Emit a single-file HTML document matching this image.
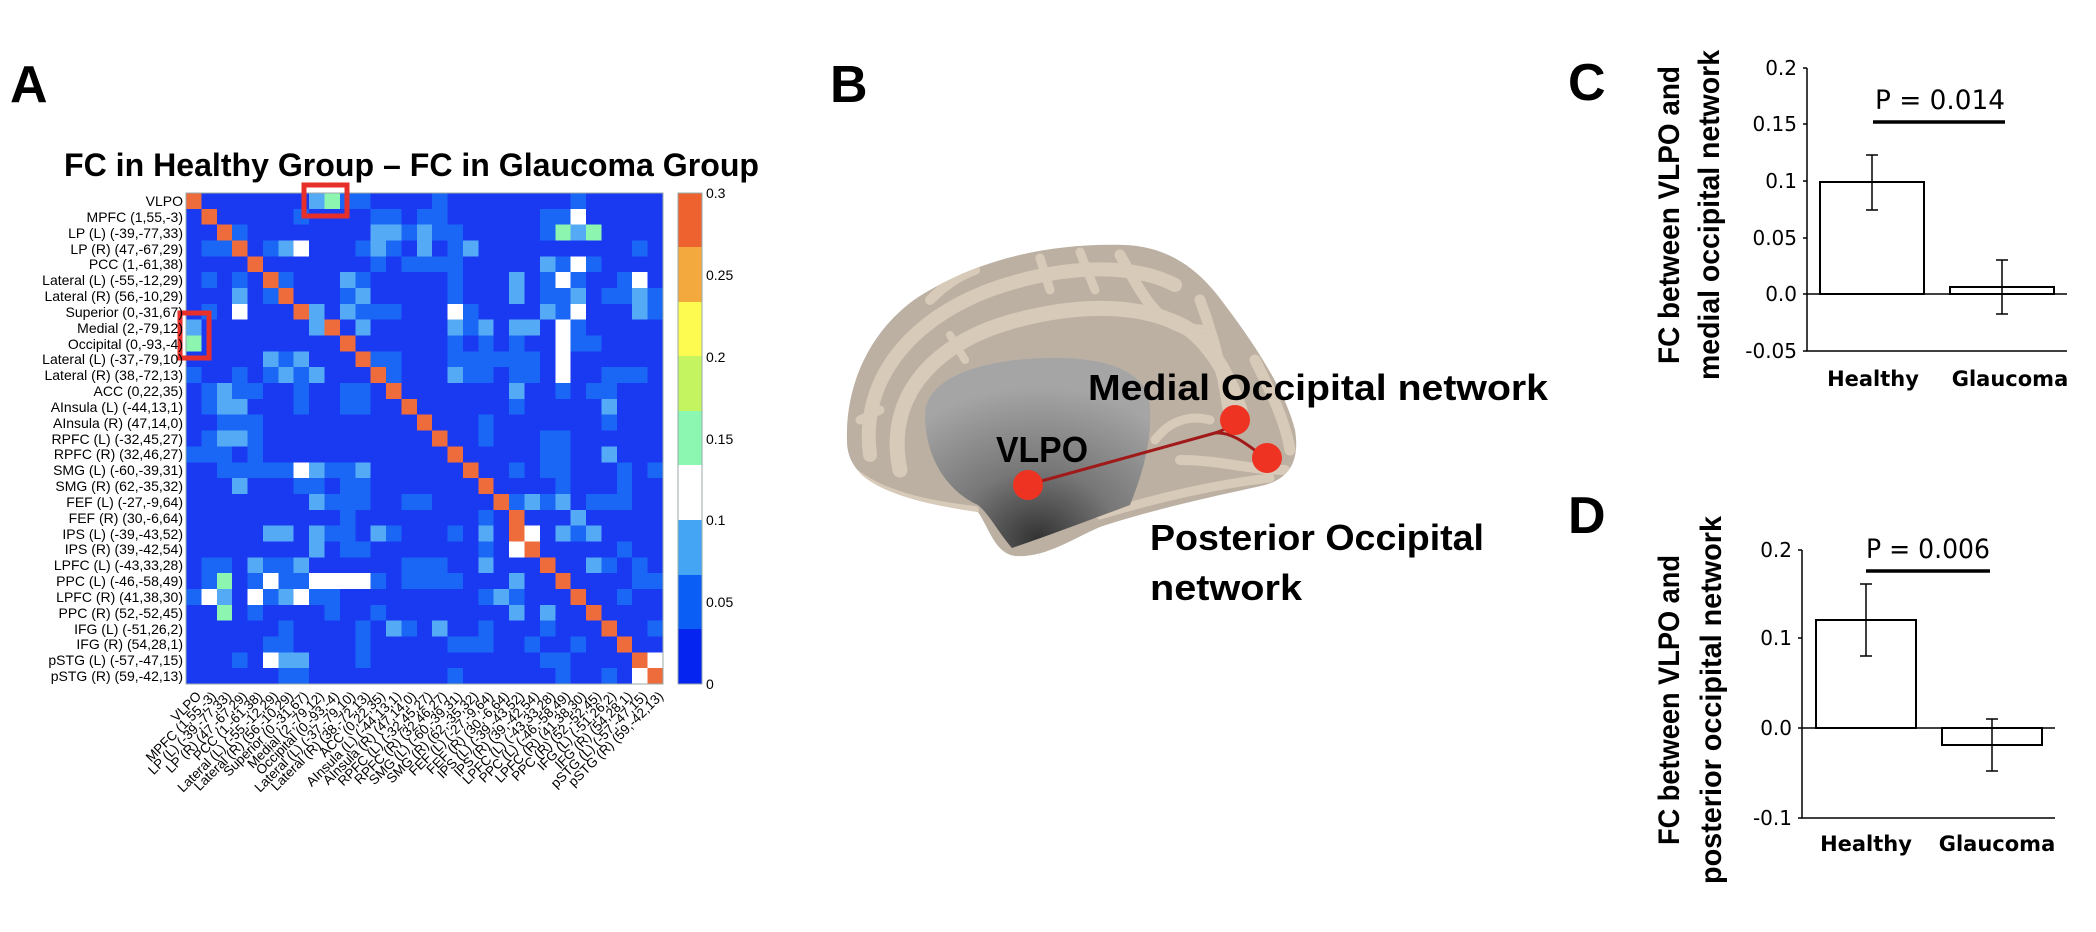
<!DOCTYPE html>
<html><head><meta charset="utf-8"><style>
html,body{margin:0;padding:0;background:#fff;}
svg{display:block;}
.M{fill:#1a66f5}.L{fill:#55aaf5}.W{fill:#ffffff}.G{fill:#8cf5b0}.O{fill:#ee6b3b}
text{font-family:"Liberation Sans",sans-serif;}
.rl{font-size:14px;text-anchor:end;}
.cl{font-size:13.5px;text-anchor:end;}
.big{font-weight:bold;font-size:52px;}
.tk{font-family:"DejaVu Sans",sans-serif;font-size:20px;text-anchor:end;}
.xl{font-family:"DejaVu Sans",sans-serif;font-size:21px;font-weight:bold;text-anchor:middle;}
.pv{font-family:"DejaVu Sans",sans-serif;font-size:27px;}
.yl{font-weight:bold;font-size:30px;text-anchor:middle;}
.bl{font-weight:bold;font-size:36px;}
</style></head><body>
<svg width="2096" height="932" viewBox="0 0 2096 932" xmlns="http://www.w3.org/2000/svg">
<rect width="2096" height="932" fill="#fff"/>
<text class="big" x="10" y="102">A</text>
<text class="big" x="830" y="102">B</text>
<text class="big" x="1568" y="100">C</text>
<text class="big" x="1568" y="533">D</text>

<text x="64" y="176" font-weight="bold" font-size="32" textLength="695" lengthAdjust="spacingAndGlyphs">FC in Healthy Group – FC in Glaucoma Group</text>

<svg x="186" y="193" width="477" height="491" viewBox="0 0 31 31" preserveAspectRatio="none">
<rect width="31" height="31" fill="#1a3af2"/>
<g shape-rendering="crispEdges">
<rect class="O" x="0" y="0" width="1" height="1"/><rect class="L" x="8" y="0" width="1" height="1"/><rect class="G" x="9" y="0" width="1" height="1"/><rect class="M" x="10" y="0" width="2" height="1"/><rect class="M" x="16" y="0" width="1" height="1"/><rect class="M" x="25" y="0" width="1" height="1"/>
<rect class="O" x="1" y="1" width="1" height="1"/><rect class="M" x="7" y="1" width="1" height="1"/><rect class="M" x="12" y="1" width="2" height="1"/><rect class="M" x="15" y="1" width="2" height="1"/><rect class="M" x="23" y="1" width="2" height="1"/><rect class="W" x="25" y="1" width="1" height="1"/>
<rect class="O" x="2" y="2" width="1" height="1"/><rect class="M" x="3" y="2" width="1" height="1"/><rect class="L" x="12" y="2" width="2" height="1"/><rect class="M" x="14" y="2" width="1" height="1"/><rect class="L" x="15" y="2" width="1" height="1"/><rect class="M" x="16" y="2" width="2" height="1"/><rect class="M" x="23" y="2" width="1" height="1"/><rect class="G" x="24" y="2" width="1" height="1"/><rect class="L" x="25" y="2" width="1" height="1"/><rect class="G" x="26" y="2" width="1" height="1"/>
<rect class="M" x="1" y="3" width="2" height="1"/><rect class="O" x="3" y="3" width="1" height="1"/><rect class="M" x="5" y="3" width="1" height="1"/><rect class="L" x="6" y="3" width="1" height="1"/><rect class="W" x="7" y="3" width="1" height="1"/><rect class="M" x="11" y="3" width="1" height="1"/><rect class="L" x="12" y="3" width="1" height="1"/><rect class="M" x="13" y="3" width="1" height="1"/><rect class="L" x="15" y="3" width="1" height="1"/><rect class="M" x="17" y="3" width="1" height="1"/><rect class="L" x="18" y="3" width="1" height="1"/><rect class="M" x="29" y="3" width="1" height="1"/>
<rect class="O" x="4" y="4" width="1" height="1"/><rect class="M" x="12" y="4" width="1" height="1"/><rect class="M" x="14" y="4" width="4" height="1"/><rect class="L" x="23" y="4" width="1" height="1"/><rect class="M" x="24" y="4" width="1" height="1"/><rect class="W" x="25" y="4" width="1" height="1"/><rect class="M" x="26" y="4" width="1" height="1"/>
<rect class="M" x="1" y="5" width="1" height="1"/><rect class="M" x="3" y="5" width="1" height="1"/><rect class="O" x="5" y="5" width="1" height="1"/><rect class="M" x="6" y="5" width="1" height="1"/><rect class="L" x="10" y="5" width="1" height="1"/><rect class="M" x="11" y="5" width="1" height="1"/><rect class="M" x="17" y="5" width="1" height="1"/><rect class="L" x="21" y="5" width="1" height="1"/><rect class="M" x="23" y="5" width="1" height="1"/><rect class="W" x="24" y="5" width="1" height="1"/><rect class="M" x="25" y="5" width="1" height="1"/><rect class="M" x="28" y="5" width="1" height="1"/><rect class="W" x="29" y="5" width="1" height="1"/>
<rect class="L" x="3" y="6" width="1" height="1"/><rect class="M" x="5" y="6" width="1" height="1"/><rect class="O" x="6" y="6" width="1" height="1"/><rect class="M" x="10" y="6" width="1" height="1"/><rect class="L" x="11" y="6" width="1" height="1"/><rect class="M" x="17" y="6" width="1" height="1"/><rect class="L" x="21" y="6" width="1" height="1"/><rect class="M" x="23" y="6" width="2" height="1"/><rect class="L" x="25" y="6" width="1" height="1"/><rect class="M" x="27" y="6" width="2" height="1"/><rect class="L" x="29" y="6" width="1" height="1"/><rect class="M" x="30" y="6" width="1" height="1"/>
<rect class="M" x="1" y="7" width="1" height="1"/><rect class="W" x="3" y="7" width="1" height="1"/><rect class="O" x="7" y="7" width="1" height="1"/><rect class="L" x="8" y="7" width="1" height="1"/><rect class="L" x="10" y="7" width="1" height="1"/><rect class="M" x="11" y="7" width="3" height="1"/><rect class="W" x="17" y="7" width="1" height="1"/><rect class="M" x="18" y="7" width="1" height="1"/><rect class="L" x="23" y="7" width="1" height="1"/><rect class="M" x="24" y="7" width="1" height="1"/><rect class="W" x="25" y="7" width="1" height="1"/><rect class="L" x="29" y="7" width="1" height="1"/><rect class="M" x="30" y="7" width="1" height="1"/>
<rect class="L" x="0" y="8" width="1" height="1"/><rect class="L" x="8" y="8" width="1" height="1"/><rect class="O" x="9" y="8" width="1" height="1"/><rect class="L" x="11" y="8" width="1" height="1"/><rect class="L" x="17" y="8" width="1" height="1"/><rect class="M" x="18" y="8" width="1" height="1"/><rect class="L" x="19" y="8" width="1" height="1"/><rect class="L" x="21" y="8" width="2" height="1"/><rect class="W" x="24" y="8" width="1" height="1"/><rect class="M" x="25" y="8" width="1" height="1"/>
<rect class="G" x="0" y="9" width="1" height="1"/><rect class="O" x="10" y="9" width="1" height="1"/><rect class="M" x="17" y="9" width="1" height="1"/><rect class="M" x="19" y="9" width="1" height="1"/><rect class="M" x="21" y="9" width="1" height="1"/><rect class="W" x="24" y="9" width="1" height="1"/><rect class="M" x="25" y="9" width="2" height="1"/>
<rect class="L" x="5" y="10" width="1" height="1"/><rect class="M" x="6" y="10" width="1" height="1"/><rect class="L" x="7" y="10" width="1" height="1"/><rect class="O" x="11" y="10" width="1" height="1"/><rect class="M" x="12" y="10" width="2" height="1"/><rect class="M" x="17" y="10" width="6" height="1"/><rect class="W" x="24" y="10" width="1" height="1"/>
<rect class="M" x="0" y="11" width="1" height="1"/><rect class="M" x="3" y="11" width="1" height="1"/><rect class="M" x="5" y="11" width="1" height="1"/><rect class="L" x="6" y="11" width="1" height="1"/><rect class="M" x="7" y="11" width="1" height="1"/><rect class="L" x="8" y="11" width="1" height="1"/><rect class="O" x="12" y="11" width="1" height="1"/><rect class="M" x="13" y="11" width="1" height="1"/><rect class="L" x="17" y="11" width="1" height="1"/><rect class="M" x="18" y="11" width="2" height="1"/><rect class="M" x="21" y="11" width="2" height="1"/><rect class="W" x="24" y="11" width="1" height="1"/><rect class="M" x="27" y="11" width="3" height="1"/>
<rect class="M" x="1" y="12" width="1" height="1"/><rect class="L" x="2" y="12" width="1" height="1"/><rect class="M" x="3" y="12" width="2" height="1"/><rect class="M" x="7" y="12" width="1" height="1"/><rect class="M" x="10" y="12" width="2" height="1"/><rect class="O" x="13" y="12" width="1" height="1"/><rect class="L" x="21" y="12" width="1" height="1"/><rect class="M" x="24" y="12" width="1" height="1"/><rect class="M" x="26" y="12" width="2" height="1"/>
<rect class="M" x="1" y="13" width="1" height="1"/><rect class="L" x="2" y="13" width="2" height="1"/><rect class="M" x="7" y="13" width="1" height="1"/><rect class="M" x="10" y="13" width="2" height="1"/><rect class="O" x="14" y="13" width="1" height="1"/><rect class="M" x="21" y="13" width="1" height="1"/><rect class="L" x="27" y="13" width="1" height="1"/>
<rect class="M" x="2" y="14" width="3" height="1"/><rect class="O" x="15" y="14" width="1" height="1"/><rect class="M" x="19" y="14" width="1" height="1"/><rect class="M" x="27" y="14" width="1" height="1"/>
<rect class="M" x="1" y="15" width="1" height="1"/><rect class="L" x="2" y="15" width="2" height="1"/><rect class="M" x="4" y="15" width="1" height="1"/><rect class="O" x="16" y="15" width="1" height="1"/><rect class="M" x="19" y="15" width="1" height="1"/><rect class="M" x="23" y="15" width="2" height="1"/>
<rect class="M" x="0" y="16" width="3" height="1"/><rect class="M" x="4" y="16" width="1" height="1"/><rect class="O" x="17" y="16" width="1" height="1"/><rect class="M" x="23" y="16" width="2" height="1"/><rect class="L" x="27" y="16" width="1" height="1"/>
<rect class="M" x="2" y="17" width="5" height="1"/><rect class="W" x="7" y="17" width="1" height="1"/><rect class="L" x="8" y="17" width="1" height="1"/><rect class="M" x="9" y="17" width="2" height="1"/><rect class="L" x="11" y="17" width="1" height="1"/><rect class="O" x="18" y="17" width="1" height="1"/><rect class="M" x="21" y="17" width="1" height="1"/><rect class="M" x="23" y="17" width="2" height="1"/><rect class="M" x="28" y="17" width="1" height="1"/><rect class="M" x="30" y="17" width="1" height="1"/>
<rect class="L" x="3" y="18" width="1" height="1"/><rect class="M" x="7" y="18" width="2" height="1"/><rect class="M" x="10" y="18" width="2" height="1"/><rect class="O" x="19" y="18" width="1" height="1"/><rect class="M" x="24" y="18" width="1" height="1"/><rect class="M" x="28" y="18" width="1" height="1"/>
<rect class="L" x="8" y="19" width="1" height="1"/><rect class="M" x="9" y="19" width="3" height="1"/><rect class="M" x="14" y="19" width="2" height="1"/><rect class="O" x="20" y="19" width="1" height="1"/><rect class="M" x="21" y="19" width="1" height="1"/><rect class="L" x="22" y="19" width="1" height="1"/><rect class="M" x="23" y="19" width="1" height="1"/><rect class="L" x="24" y="19" width="1" height="1"/><rect class="M" x="26" y="19" width="3" height="1"/>
<rect class="M" x="10" y="20" width="1" height="1"/><rect class="M" x="19" y="20" width="1" height="1"/><rect class="O" x="21" y="20" width="1" height="1"/><rect class="L" x="25" y="20" width="1" height="1"/>
<rect class="L" x="5" y="21" width="2" height="1"/><rect class="L" x="8" y="21" width="1" height="1"/><rect class="M" x="9" y="21" width="2" height="1"/><rect class="L" x="12" y="21" width="1" height="1"/><rect class="M" x="13" y="21" width="1" height="1"/><rect class="M" x="17" y="21" width="1" height="1"/><rect class="L" x="19" y="21" width="1" height="1"/><rect class="O" x="21" y="21" width="1" height="1"/><rect class="W" x="22" y="21" width="1" height="1"/><rect class="L" x="24" y="21" width="1" height="1"/><rect class="M" x="25" y="21" width="1" height="1"/><rect class="L" x="26" y="21" width="1" height="1"/>
<rect class="L" x="8" y="22" width="1" height="1"/><rect class="M" x="10" y="22" width="2" height="1"/><rect class="M" x="19" y="22" width="1" height="1"/><rect class="W" x="21" y="22" width="1" height="1"/><rect class="O" x="22" y="22" width="1" height="1"/><rect class="M" x="28" y="22" width="1" height="1"/>
<rect class="M" x="1" y="23" width="2" height="1"/><rect class="L" x="4" y="23" width="1" height="1"/><rect class="M" x="5" y="23" width="2" height="1"/><rect class="L" x="7" y="23" width="1" height="1"/><rect class="M" x="14" y="23" width="3" height="1"/><rect class="L" x="19" y="23" width="1" height="1"/><rect class="O" x="23" y="23" width="1" height="1"/><rect class="L" x="26" y="23" width="1" height="1"/><rect class="M" x="27" y="23" width="1" height="1"/><rect class="M" x="29" y="23" width="1" height="1"/>
<rect class="M" x="1" y="24" width="1" height="1"/><rect class="G" x="2" y="24" width="1" height="1"/><rect class="M" x="4" y="24" width="1" height="1"/><rect class="W" x="5" y="24" width="1" height="1"/><rect class="M" x="6" y="24" width="2" height="1"/><rect class="W" x="8" y="24" width="4" height="1"/><rect class="M" x="12" y="24" width="1" height="1"/><rect class="M" x="14" y="24" width="4" height="1"/><rect class="L" x="21" y="24" width="1" height="1"/><rect class="O" x="24" y="24" width="1" height="1"/><rect class="M" x="29" y="24" width="2" height="1"/>
<rect class="M" x="0" y="25" width="1" height="1"/><rect class="W" x="1" y="25" width="1" height="1"/><rect class="L" x="2" y="25" width="1" height="1"/><rect class="W" x="4" y="25" width="1" height="1"/><rect class="M" x="5" y="25" width="1" height="1"/><rect class="L" x="6" y="25" width="1" height="1"/><rect class="W" x="7" y="25" width="1" height="1"/><rect class="M" x="8" y="25" width="2" height="1"/><rect class="M" x="19" y="25" width="1" height="1"/><rect class="L" x="20" y="25" width="1" height="1"/><rect class="M" x="21" y="25" width="1" height="1"/><rect class="O" x="25" y="25" width="1" height="1"/><rect class="M" x="28" y="25" width="1" height="1"/>
<rect class="G" x="2" y="26" width="1" height="1"/><rect class="M" x="4" y="26" width="1" height="1"/><rect class="M" x="9" y="26" width="1" height="1"/><rect class="M" x="12" y="26" width="1" height="1"/><rect class="L" x="21" y="26" width="1" height="1"/><rect class="L" x="23" y="26" width="1" height="1"/><rect class="O" x="26" y="26" width="1" height="1"/>
<rect class="M" x="6" y="27" width="1" height="1"/><rect class="M" x="11" y="27" width="1" height="1"/><rect class="L" x="13" y="27" width="1" height="1"/><rect class="M" x="14" y="27" width="1" height="1"/><rect class="L" x="16" y="27" width="1" height="1"/><rect class="M" x="19" y="27" width="1" height="1"/><rect class="M" x="23" y="27" width="1" height="1"/><rect class="O" x="27" y="27" width="1" height="1"/><rect class="M" x="30" y="27" width="1" height="1"/>
<rect class="M" x="5" y="28" width="2" height="1"/><rect class="M" x="11" y="28" width="1" height="1"/><rect class="M" x="17" y="28" width="3" height="1"/><rect class="M" x="22" y="28" width="1" height="1"/><rect class="M" x="25" y="28" width="1" height="1"/><rect class="O" x="28" y="28" width="1" height="1"/>
<rect class="M" x="3" y="29" width="1" height="1"/><rect class="W" x="5" y="29" width="1" height="1"/><rect class="L" x="6" y="29" width="2" height="1"/><rect class="M" x="11" y="29" width="1" height="1"/><rect class="M" x="23" y="29" width="2" height="1"/><rect class="O" x="29" y="29" width="1" height="1"/><rect class="W" x="30" y="29" width="1" height="1"/>
<rect class="M" x="6" y="30" width="2" height="1"/><rect class="M" x="17" y="30" width="1" height="1"/><rect class="M" x="24" y="30" width="1" height="1"/><rect class="M" x="27" y="30" width="1" height="1"/><rect class="W" x="29" y="30" width="1" height="1"/><rect class="O" x="30" y="30" width="1" height="1"/>
</g>
</svg>
<rect x="186" y="193" width="477" height="491" fill="none" stroke="#9aa" stroke-width="1"/>

<rect x="304" y="185" width="43" height="31" fill="none" stroke="#e8302a" stroke-width="5"/>
<rect x="180" y="313" width="29" height="45" fill="none" stroke="#e8302a" stroke-width="5"/>

<g>
<text class="rl" x="183" y="206">VLPO</text>
<text class="rl" x="183" y="222">MPFC (1,55,-3)</text>
<text class="rl" x="183" y="238">LP (L) (-39,-77,33)</text>
<text class="rl" x="183" y="254">LP (R) (47,-67,29)</text>
<text class="rl" x="183" y="269">PCC (1,-61,38)</text>
<text class="rl" x="183" y="285">Lateral (L) (-55,-12,29)</text>
<text class="rl" x="183" y="301">Lateral (R) (56,-10,29)</text>
<text class="rl" x="183" y="317">Superior  (0,-31,67)</text>
<text class="rl" x="183" y="333">Medial (2,-79,12)</text>
<text class="rl" x="183" y="349">Occipital (0,-93,-4)</text>
<text class="rl" x="183" y="364">Lateral (L) (-37,-79,10)</text>
<text class="rl" x="183" y="380">Lateral (R) (38,-72,13)</text>
<text class="rl" x="183" y="396">ACC (0,22,35)</text>
<text class="rl" x="183" y="412">AInsula (L) (-44,13,1)</text>
<text class="rl" x="183" y="428">AInsula (R) (47,14,0)</text>
<text class="rl" x="183" y="444">RPFC (L) (-32,45,27)</text>
<text class="rl" x="183" y="459">RPFC (R) (32,46,27)</text>
<text class="rl" x="183" y="475">SMG (L) (-60,-39,31)</text>
<text class="rl" x="183" y="491">SMG (R) (62,-35,32)</text>
<text class="rl" x="183" y="507">FEF (L)  (-27,-9,64)</text>
<text class="rl" x="183" y="523">FEF (R)  (30,-6,64)</text>
<text class="rl" x="183" y="539">IPS (L)  (-39,-43,52)</text>
<text class="rl" x="183" y="554">IPS (R)  (39,-42,54)</text>
<text class="rl" x="183" y="570">LPFC (L)  (-43,33,28)</text>
<text class="rl" x="183" y="586">PPC (L)  (-46,-58,49)</text>
<text class="rl" x="183" y="602">LPFC (R)  (41,38,30)</text>
<text class="rl" x="183" y="618">PPC (R)  (52,-52,45)</text>
<text class="rl" x="183" y="634">IFG (L) (-51,26,2)</text>
<text class="rl" x="183" y="649">IFG (R) (54,28,1)</text>
<text class="rl" x="183" y="665">pSTG (L) (-57,-47,15)</text>
<text class="rl" x="183" y="681">pSTG (R) (59,-42,13)</text>
</g>

<g>
<text class="cl" transform="translate(202,697) rotate(-45)">VLPO</text>
<text class="cl" transform="translate(217,697) rotate(-45)">MPFC (1,55,-3)</text>
<text class="cl" transform="translate(232,697) rotate(-45)">LP (L) (-39,-77,33)</text>
<text class="cl" transform="translate(248,697) rotate(-45)">LP (R) (47,-67,29)</text>
<text class="cl" transform="translate(263,697) rotate(-45)">PCC (1,-61,38)</text>
<text class="cl" transform="translate(279,697) rotate(-45)">Lateral (L) (-55,-12,29)</text>
<text class="cl" transform="translate(294,697) rotate(-45)">Lateral (R) (56,-10,29)</text>
<text class="cl" transform="translate(309,697) rotate(-45)">Superior (0,-31,67)</text>
<text class="cl" transform="translate(325,697) rotate(-45)">Medial (2,-79,12)</text>
<text class="cl" transform="translate(340,697) rotate(-45)">Occipital (0,-93,-4)</text>
<text class="cl" transform="translate(356,697) rotate(-45)">Lateral (L) (-37,-79,10)</text>
<text class="cl" transform="translate(371,697) rotate(-45)">Lateral (R) (38,-72,13)</text>
<text class="cl" transform="translate(386,697) rotate(-45)">ACC (0,22,35)</text>
<text class="cl" transform="translate(402,697) rotate(-45)">AInsula (L) (-44,13,1)</text>
<text class="cl" transform="translate(417,697) rotate(-45)">AInsula (R) (47,14,0)</text>
<text class="cl" transform="translate(433,697) rotate(-45)">RPFC (L) (-32,45,27)</text>
<text class="cl" transform="translate(448,697) rotate(-45)">RPFC (R) (32,46,27)</text>
<text class="cl" transform="translate(463,697) rotate(-45)">SMG (L) (-60,-39,31)</text>
<text class="cl" transform="translate(479,697) rotate(-45)">SMG (R) (62,-35,32)</text>
<text class="cl" transform="translate(494,697) rotate(-45)">FEF (L) (-27,-9,64)</text>
<text class="cl" transform="translate(510,697) rotate(-45)">FEF (R) (30,-6,64)</text>
<text class="cl" transform="translate(525,697) rotate(-45)">IPS (L) (-39,-43,52)</text>
<text class="cl" transform="translate(540,697) rotate(-45)">IPS (R) (39,-42,54)</text>
<text class="cl" transform="translate(556,697) rotate(-45)">LPFC (L) (-43,33,28)</text>
<text class="cl" transform="translate(571,697) rotate(-45)">PPC (L) (-46,-58,49)</text>
<text class="cl" transform="translate(587,697) rotate(-45)">LPFC (R) (41,38,30)</text>
<text class="cl" transform="translate(602,697) rotate(-45)">PPC (R) (52,-52,45)</text>
<text class="cl" transform="translate(617,697) rotate(-45)">IFG (L) (-51,26,2)</text>
<text class="cl" transform="translate(633,697) rotate(-45)">IFG (R) (54,28,1)</text>
<text class="cl" transform="translate(648,697) rotate(-45)">pSTG (L) (-57,-47,15)</text>
<text class="cl" transform="translate(664,697) rotate(-45)">pSTG (R) (59,-42,13)</text>
</g>

<g shape-rendering="crispEdges">
<rect x="678" y="193" width="24" height="55" fill="#ee6230"/>
<rect x="678" y="247" width="24" height="55" fill="#f3a93e"/>
<rect x="678" y="302" width="24" height="55" fill="#fdfb50"/>
<rect x="678" y="356" width="24" height="55" fill="#c4f560"/>
<rect x="678" y="411" width="24" height="55" fill="#8cf7b0"/>
<rect x="678" y="465" width="24" height="55" fill="#ffffff"/>
<rect x="678" y="520" width="24" height="55" fill="#45a5f5"/>
<rect x="678" y="575" width="24" height="55" fill="#0a5ef5"/>
<rect x="678" y="629" width="24" height="55" fill="#0524f0"/>
</g>
<rect x="678" y="193" width="24" height="491" fill="none" stroke="#9aa" stroke-width="1"/>
<g font-size="14">
<text x="706" y="198">0.3</text>
<text x="706" y="280">0.25</text>
<text x="706" y="362">0.2</text>
<text x="706" y="444">0.15</text>
<text x="706" y="525">0.1</text>
<text x="706" y="607">0.05</text>
<text x="706" y="689">0</text>
</g>

<!-- Brain -->
<defs>
<radialGradient id="mw" cx="0.5" cy="0.95" r="0.8">
<stop offset="0" stop-color="#333"/>
<stop offset="0.45" stop-color="#777"/>
<stop offset="1" stop-color="#a5a5a5"/>
</radialGradient>
<clipPath id="bc"><path d="M847,440 C845,380 875,320 930,290 C990,255 1060,243 1125,245 C1170,247 1200,270 1225,305 C1255,345 1285,390 1295,430 C1300,460 1290,478 1265,485 C1220,495 1150,510 1100,527 C1070,540 1045,558 1015,556 C995,553 990,530 978,512 C930,505 885,495 862,475 C850,463 847,452 847,440 Z"/></clipPath>
</defs>
<g clip-path="url(#bc)">
<rect x="840" y="240" width="470" height="330" fill="#bcb0a3"/>
<g fill="none" stroke="#d8cab8" stroke-linecap="round">
<path d="M870,455 C860,380 910,320 990,290 C1060,265 1130,262 1175,285" stroke-width="14"/>
<path d="M900,470 C885,400 930,345 1010,322 C1070,305 1140,300 1190,330 C1215,350 1230,380 1240,410" stroke-width="15"/>
<path d="M1120,255 C1145,300 1160,330 1200,330" stroke-width="11"/>
<path d="M1200,300 C1215,340 1225,380 1230,425" stroke-width="11"/>
<path d="M1255,360 C1270,390 1285,420 1290,450" stroke-width="11"/>
<path d="M1180,460 C1220,460 1250,470 1285,470" stroke-width="10"/>
<path d="M1100,515 C1150,500 1210,485 1270,478" stroke-width="9"/>
<path d="M930,300 C945,285 960,275 975,270" stroke-width="10"/>
<path d="M1040,258 L1050,290" stroke-width="9"/>
<path d="M1080,252 L1095,290" stroke-width="9"/>
<path d="M860,420 L880,410" stroke-width="9"/>
<path d="M950,335 L965,360" stroke-width="8"/>
<path d="M1155,440 C1170,420 1190,415 1210,420" stroke-width="9"/>
<path d="M852,470 C880,495 930,505 975,510" stroke-width="8"/>
</g>
<path d="M925,415 C925,380 975,360 1045,358 C1115,356 1150,375 1150,410 C1152,445 1140,480 1130,505 C1090,520 1050,535 1012,548 C998,532 990,515 978,505 C945,490 925,455 925,415 Z" fill="url(#mw)"/>
</g>
<path d="M1027,485 L1215,433 C1225,430 1232,425 1234,420" fill="none" stroke="#a01a1a" stroke-width="3"/>
<path d="M1215,433 C1235,431 1255,452 1266,458" fill="none" stroke="#a01a1a" stroke-width="3"/>
<ellipse cx="1028" cy="485" rx="15" ry="15" fill="#ee3322"/>
<ellipse cx="1235" cy="420" rx="15" ry="15" fill="#ee3322"/>
<ellipse cx="1267" cy="458" rx="15" ry="15" fill="#ee3322"/>
<text class="bl" x="996" y="462" textLength="92" lengthAdjust="spacingAndGlyphs">VLPO</text>
<text class="bl" x="1088" y="400" textLength="460" lengthAdjust="spacingAndGlyphs">Medial Occipital network</text>
<text class="bl" x="1150" y="550" textLength="334" lengthAdjust="spacingAndGlyphs">Posterior Occipital</text>
<text class="bl" x="1150" y="600" textLength="152" lengthAdjust="spacingAndGlyphs">network</text>

<!-- Chart C -->
<g stroke="#000" fill="none" stroke-width="1.5">
<path d="M1807,68 L1807,351 L2067,351"/>
<path d="M1807,294 L2067,294"/>
<path d="M1803,68 L1807,68 M1803,124 L1807,124 M1803,181 L1807,181 M1803,238 L1807,238 M1803,294 L1807,294 M1803,351 L1807,351"/>
<rect x="1820" y="182" width="104" height="112" stroke-width="2"/>
<rect x="1950" y="287" width="104" height="7" stroke-width="2"/>
<path d="M1872,155 L1872,210 M1866,155 L1878,155 M1866,210 L1878,210"/>
<path d="M2002,260 L2002,314 M1996,260 L2008,260 M1996,314 L2008,314"/>
</g>
<path d="M1873,122 L2005,122" stroke="#000" stroke-width="3.5"/>
<text class="pv" x="1875" y="109" textLength="130" lengthAdjust="spacingAndGlyphs">P = 0.014</text>
<text class="tk" x="1797" y="75">0.2</text>
<text class="tk" x="1797" y="131">0.15</text>
<text class="tk" x="1797" y="188">0.1</text>
<text class="tk" x="1797" y="245">0.05</text>
<text class="tk" x="1797" y="301">0.0</text>
<text class="tk" x="1797" y="358">-0.05</text>
<text class="xl" x="1873" y="386">Healthy</text>
<text class="xl" x="2010" y="386">Glaucoma</text>
<text class="yl" transform="translate(1679,215) rotate(-90)" textLength="298" lengthAdjust="spacingAndGlyphs">FC between VLPO and</text>
<text class="yl" transform="translate(1719,215) rotate(-90)" textLength="330" lengthAdjust="spacingAndGlyphs">medial occipital network</text>

<!-- Chart D -->
<g stroke="#000" fill="none" stroke-width="1.5">
<path d="M1802,550 L1802,818 L2055,818"/>
<path d="M1802,728 L2055,728"/>
<path d="M1798,550 L1802,550 M1798,638 L1802,638 M1798,728 L1802,728 M1798,818 L1802,818"/>
<rect x="1816" y="620" width="100" height="108" stroke-width="2"/>
<rect x="1942" y="728" width="100" height="17" stroke-width="2"/>
<path d="M1866,584 L1866,656 M1860,584 L1872,584 M1860,656 L1872,656"/>
<path d="M1992,719 L1992,771 M1986,719 L1998,719 M1986,771 L1998,771"/>
</g>
<path d="M1866,571 L1990,571" stroke="#000" stroke-width="3.5"/>
<text class="pv" x="1866" y="558" textLength="124" lengthAdjust="spacingAndGlyphs">P = 0.006</text>
<text class="tk" x="1792" y="557">0.2</text>
<text class="tk" x="1792" y="645">0.1</text>
<text class="tk" x="1792" y="735">0.0</text>
<text class="tk" x="1792" y="825">-0.1</text>
<text class="xl" x="1866" y="851">Healthy</text>
<text class="xl" x="1997" y="851">Glaucoma</text>
<text class="yl" transform="translate(1679,700) rotate(-90)" textLength="290" lengthAdjust="spacingAndGlyphs">FC between VLPO and</text>
<text class="yl" transform="translate(1721,700) rotate(-90)" textLength="368" lengthAdjust="spacingAndGlyphs">posterior occipital network</text>
</svg>
</body></html>
